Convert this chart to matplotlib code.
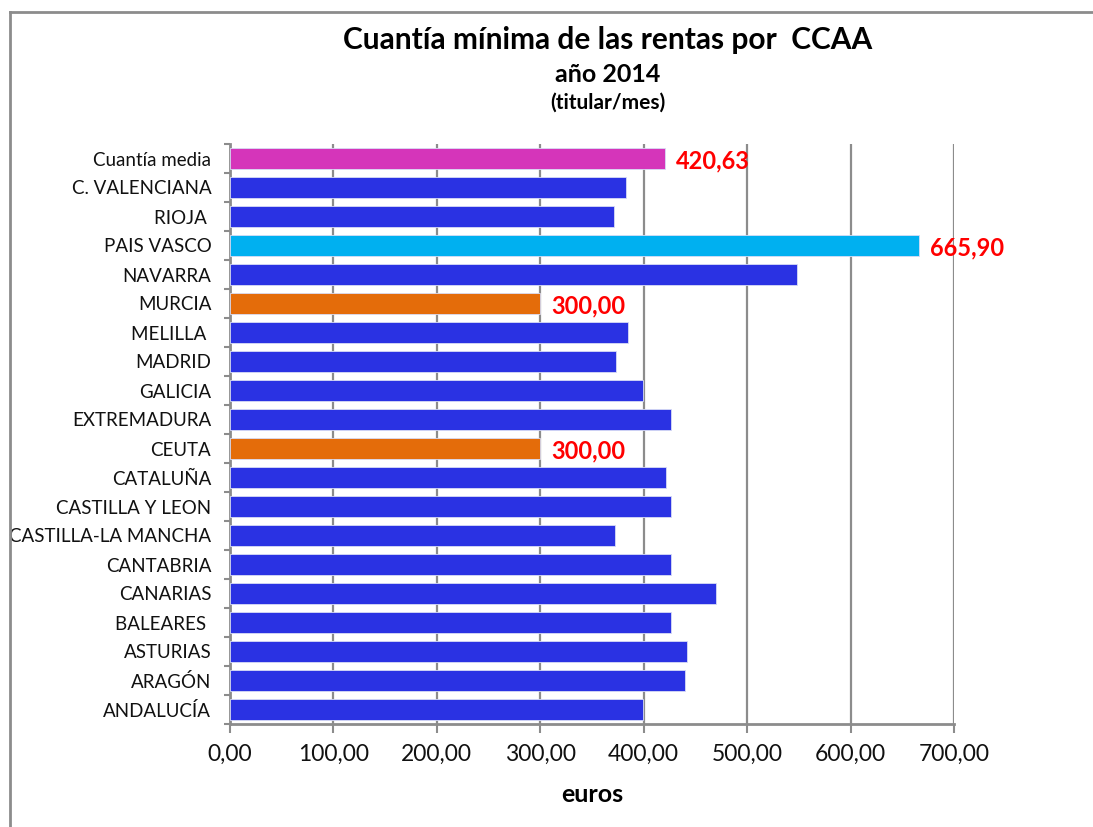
import matplotlib.pyplot as plt
from matplotlib.lines import Line2D
from matplotlib.ticker import FuncFormatter, MultipleLocator

plt.rcParams['font.family'] = ['Lato', 'DejaVu Sans']

# data, listed from bottom to top of the chart
regiones = ['ANDALUCÍA', 'ARAGÓN', 'ASTURIAS', 'BALEARES ', 'CANARIAS', 'CANTABRIA',
            'CASTILLA-LA MANCHA', 'CASTILLA Y LEON', 'CATALUÑA', 'CEUTA', 'EXTREMADURA',
            'GALICIA', 'MADRID', 'MELILLA ', 'MURCIA', 'NAVARRA', 'PAIS VASCO', 'RIOJA ',
            'C. VALENCIANA', 'Cuantía media']
cuantia = [399.38, 440.0, 441.5, 426.0, 470.0, 426.0,
           372.0, 426.0, 422.0, 300.0, 426.0,
           399.38, 373.5, 384.5, 300.0, 548.0, 665.90, 371.5,
           383.0, 420.63]

# which bars get a value label
etiquetas = {'Cuantía media': '420,63', 'PAIS VASCO': '665,90',
             'MURCIA': '300,00', 'CEUTA': '300,00'}

azul = '#2a32e3'
colores_especiales = {'Cuantía media': '#d535ba', 'PAIS VASCO': '#00b0f0',
                      'MURCIA': '#e46c0a', 'CEUTA': '#e46c0a'}
colores = [colores_especiales.get(r, azul) for r in regiones]

gris = '#8c8c8c'

fig = plt.figure(figsize=(10.93, 8.27), dpi=100)
W, H = 1093, 827
ax = fig.add_axes([230 / W, 1 - 724 / H, (954 - 230) / W, (724 - 144) / H])

y = list(range(len(regiones)))
ax.barh(y, cuantia, height=0.7, color=colores, edgecolor='#d8dcf5', linewidth=0.6, zorder=3)

for yi, r, v in zip(y, regiones, cuantia):
    if r in etiquetas:
        ax.annotate(etiquetas[r], (v, yi), xytext=(8, -1.5), textcoords='offset points',
                    va='center', ha='left', color='#ff0000', fontsize=17, fontweight='bold')

ax.set_xlim(0, 700)
ax.set_ylim(-0.5, len(regiones) - 0.5)
ax.xaxis.set_major_locator(MultipleLocator(100))
ax.xaxis.set_major_formatter(FuncFormatter(lambda v, p: f'{v:.2f}'.replace('.', ',')))
ax.grid(axis='x', color=gris, linewidth=1.6, zorder=0)

ax.set_yticks(y)
ax.set_yticklabels(regiones)
ax.set_yticks([i + 0.5 for i in range(-1, len(regiones))], minor=True)
ax.tick_params(axis='y', which='major', length=0, pad=13.5, labelsize=13.5, colors='#111111')
ax.tick_params(axis='y', which='minor', length=4, width=1.5, color=gris)
ax.tick_params(axis='x', which='major', length=6.5, width=1.5, color=gris, pad=8,
               labelsize=16.5, labelcolor='#111111')

for s in ['top', 'right']:
    ax.spines[s].set_visible(False)
for s in ['left', 'bottom']:
    ax.spines[s].set_color(gris)
    ax.spines[s].set_linewidth(2)

ax.set_xlabel('euros', fontsize=18, fontweight='bold', labelpad=13)

fig.text(608 / W, 1 - 40 / H, 'Cuantía mínima de las rentas por  CCAA', ha='center', va='center',
         fontsize=21.5, fontweight='bold')
fig.text(608 / W, 1 - 75 / H, 'año 2014', ha='center', va='center', fontsize=18, fontweight='bold')
fig.text(608 / W, 1 - 103 / H, '(titular/mes)', ha='center', va='center', fontsize=15, fontweight='bold')

# outer chart frame
fig.add_artist(Line2D([10 / W, 1], [1 - 12 / H, 1 - 12 / H], transform=fig.transFigure, color=gris, lw=2))
fig.add_artist(Line2D([10 / W, 10 / W], [0, 1 - 12 / H], transform=fig.transFigure, color=gris, lw=2))

fig.savefig('out.png', dpi=100)
